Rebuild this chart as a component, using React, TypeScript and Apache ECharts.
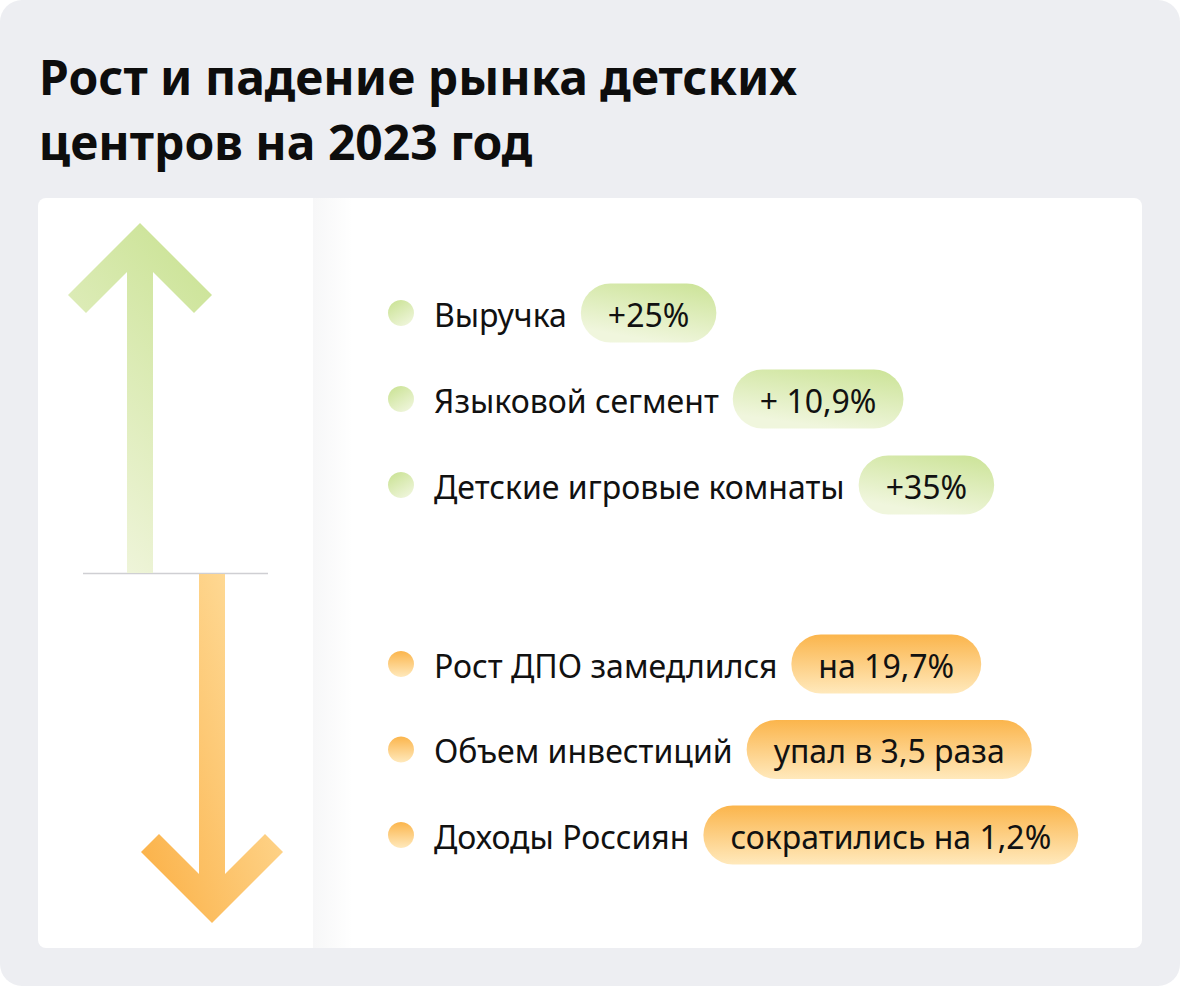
import React, { useEffect, useRef } from "react";
import * as echarts from "echarts";

const titleLines = ["Рост и падение рынка детских", "центров на 2023 год"];
const growthLabels = ["Выручка", "Языковой сегмент", "Детские игровые комнаты"];
const growthValues = ["+25%", "+ 10,9%", "+35%"];
const declineLabels = ["Рост ДПО замедлился", "Объем инвестиций", "Доходы Россиян"];
const declineValues = ["на 19,7%", "упал в 3,5 раза", "сократились на 1,2%"];

const FONT = "'Noto Sans', 'Open Sans', sans-serif";
const LABEL_SIZE = 32;
const TITLE_SIZE = 48;

function measure(text: string, size: number, weight: string): number {
  const c = document.createElement("canvas");
  const ctx = c.getContext("2d")!;
  ctx.font = `${weight} ${size}px 'Noto Sans'`;
  return ctx.measureText(text).width;
}

const green = (x: number, y: number, x2: number, y2: number) =>
  new echarts.graphic.LinearGradient(x, y, x2, y2, [
    { offset: 0, color: "#CBE396" },
    { offset: 1, color: "#F0F6DD" },
  ]);
const orange = (x: number, y: number, x2: number, y2: number) =>
  new echarts.graphic.LinearGradient(x, y, x2, y2, [
    { offset: 0, color: "#FBB54C" },
    { offset: 1, color: "#FFE9BC" },
  ]);

export default function App() {
  const ref = useRef<HTMLDivElement>(null);
  useEffect(() => {
    document.body.style.margin = "0";
    const chart = echarts.init(ref.current!, null, { renderer: "svg" });
    const elements: any[] = [];
    elements.push({
      type: "rect",
      shape: { x: 0, y: 0, width: 1180, height: 986, r: 22 },
      style: { fill: "#EDEEF2" },
    });
    titleLines.forEach((t, i) => {
      elements.push({
        type: "text",
        x: 39,
        y: 76 + i * 65,
        style: {
          text: t,
          font: `bold ${TITLE_SIZE}px ${FONT}`,
          fill: "#0d0d0d",
          verticalAlign: "middle",
        },
      });
    });
    // card
    elements.push({
      type: "rect",
      shape: { x: 38, y: 198, width: 1104, height: 750, r: 8 },
      style: { fill: "#ffffff" },
    });
    // shadow of left panel
    elements.push({
      type: "rect",
      shape: { x: 313, y: 198, width: 40, height: 750 },
      style: {
        fill: new echarts.graphic.LinearGradient(0, 0, 1, 0, [
          { offset: 0, color: "rgba(20,25,50,0.035)" },
          { offset: 1, color: "rgba(20,25,50,0)" },
        ]),
      },
    });
    // separator line
    elements.push({
      type: "line",
      shape: { x1: 83, y1: 573.5, x2: 268, y2: 573.5 },
      style: { stroke: "#CFCFD3", lineWidth: 1.5 },
    });
    // up arrow
    elements.push({
      type: "polygon",
      shape: {
        points: [
          [140, 223], [212, 295], [194, 313], [153, 272], [153, 573],
          [127, 573], [127, 272], [86, 313], [68, 295],
        ],
      },
      style: {
        fill: new echarts.graphic.LinearGradient(0.75, 0, 0.3, 1, [
          { offset: 0, color: "#CBE396" },
          { offset: 1, color: "#F0F5DC" },
        ]),
      },
    });
    // down arrow
    elements.push({
      type: "polygon",
      shape: {
        points: [
          [212, 923], [283, 852], [265, 834], [225, 874], [225, 574],
          [199, 574], [199, 874], [159, 834], [141, 852],
        ],
      },
      style: {
        fill: new echarts.graphic.LinearGradient(0, 0.9, 1, 0.1, [
          { offset: 0, color: "#FBB147" },
          { offset: 1, color: "#FFE2A6" },
        ]),
      },
    });

    const rows = [
      ...growthLabels.map((l, i) => ({ label: l, value: growthValues[i], kind: "g", y: 313 + i * 86 })),
      ...declineLabels.map((l, i) => ({ label: l, value: declineValues[i], kind: "o", y: 664 + i * 85.5 })),
    ];
    rows.forEach((r) => {
      const isG = r.kind === "g";
      elements.push({
        type: "circle",
        shape: { cx: 401, cy: r.y, r: 13 },
        style: { fill: isG ? green(0.2, 0, 0.8, 1) : orange(0.5, 0, 0.5, 1) },
      });
      const lw = measure(r.label, LABEL_SIZE, "normal");
      const vw = measure(r.value, LABEL_SIZE, "normal");
      elements.push({
        type: "text",
        x: 434,
        y: r.y + 1,
        style: {
          text: r.label,
          font: `${LABEL_SIZE}px ${FONT}`,
          fill: "#111111",
          verticalAlign: "middle",
        },
      });
      const px = 434 + lw + 14;
      const pw = vw + 54;
      elements.push({
        type: "rect",
        shape: { x: px, y: r.y - 29.5, width: pw, height: 59, r: 29.5 },
        style: { fill: isG ? green(1, 0, 0.6, 1) : orange(0.5, 0, 0.5, 1) },
      });
      elements.push({
        type: "text",
        x: px + pw / 2,
        y: r.y + 1,
        style: {
          text: r.value,
          font: `${LABEL_SIZE}px ${FONT}`,
          fill: "#111111",
          align: "center",
          verticalAlign: "middle",
        },
      });
    });

    chart.setOption({
      animation: false,
      backgroundColor: "#ffffff",
      graphic: { elements },
    });
    return () => chart.dispose();
  }, []);
  return (
    <div
      ref={ref}
      style={{ position: "absolute", left: 0, top: 0, width: 1180, height: 986 }}
    />
  );
}
